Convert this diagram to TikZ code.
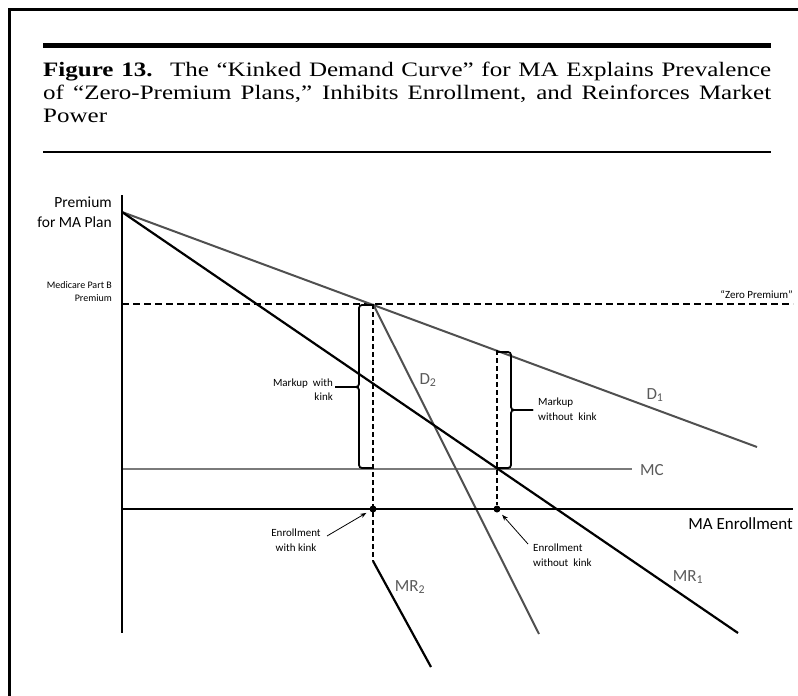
\documentclass[tikz,border=0pt]{standalone}
\usepackage{fontspec}
\usepackage{graphicx}
\setmainfont{Liberation Serif}
\newfontfamily\lblfont{Carlito}
\newfontfamily\titlefont{Liberation Serif}
\usetikzlibrary{arrows.meta}
\definecolor{dgray}{HTML}{505050}
\definecolor{lgray}{HTML}{7A7A7A}
\definecolor{tgray}{HTML}{5A5A5A}
\newcommand{\titleline}[1]{\scalebox{1.22}[1]{\makebox[596.7pt][s]{\titlefont\fontsize{20.5}{22}\selectfont #1}}}
\tikzset{
  blackline/.style={line width=2.2pt, black},
  grayline/.style={line width=2pt, dgray},
  mcline/.style={line width=1.6pt, lgray},
  axisline/.style={line width=2.4pt, black},
  zpdash/.style={line width=2.2pt, black, dash pattern=on 7pt off 4pt},
  vdash/.style={line width=2pt, black, dash pattern=on 5pt off 3pt},
  bracestyle/.style={line width=1.8pt, black, rounded corners=3pt},
  enrdot/.style={circle, fill=black, inner sep=0pt, minimum size=7pt},
  curvelbl/.style={font=\lblfont\fontsize{17}{20}\selectfont, text=tgray, inner sep=0pt},
  smalllbl/.style={font=\lblfont\fontsize{11}{14.5}\selectfont, inner sep=0pt},
  arr/.style={line width=0.8pt, -{Stealth[length=6pt,width=4.5pt]}},
}
\begin{document}
\begin{tikzpicture}[x=1pt,y=-1pt]
\useasboundingbox (0,0) rectangle (798,696);
% frame and rules
\draw[line width=3pt] (9.5,700) -- (9.5,9.5) -- (800,9.5);
\draw[line width=5pt] (43,45) -- (771,45);
\draw[line width=1.2pt] (43,152) -- (771,152);
% title
\node[anchor=base west, inner sep=0] (t1) at (43,76) {\titleline{\textbf{Figure 13.}\hspace{0.7em}The “Kinked Demand Curve” for MA Explains Prevalence}};
\node[anchor=base west, inner sep=0] (t2) at (43,99) {\titleline{of “Zero-Premium Plans,” Inhibits Enrollment, and Reinforces Market}};
\node[anchor=base west, inner sep=0] (t3) at (43,122) {\scalebox{1.22}[1]{\titlefont\fontsize{20.5}{22}\selectfont Power}};
% coordinates
\coordinate (ytop) at (122,195);
\coordinate (ybot) at (122,633);
\coordinate (S) at (122,212);
\coordinate (K) at (373,304);
\coordinate (D1e) at (757,447);
\coordinate (MR1e) at (738,633);
\coordinate (D2e) at (539,634);
\coordinate (zpL) at (122,304);
\coordinate (zpR) at (793,304);
\coordinate (mcL) at (122,469);
\coordinate (mcR) at (632,469);
\coordinate (xL) at (122,509);
\coordinate (xR) at (793,509);
\coordinate (k2) at (497,350);
\coordinate (mr2s) at (373,561);
\coordinate (mr2e) at (431,667);
% lines
\draw[zpdash] (zpL) -- (zpR);
\draw[mcline] (mcL) -- (mcR);
\draw[grayline] (S) -- (D1e);
\draw[grayline] (K) -- (D2e);
\draw[blackline] (S) -- (MR1e);
\draw[axisline] (ytop) -- (ybot);
\draw[axisline] (xL) -- (xR);
\node[enrdot] (e1) at (373,509) {};
\node[enrdot] (e2) at (497,509) {};
\draw[vdash] (K) -- (mr2s);
\draw[vdash] (k2) -- (e2);
\draw[blackline] (mr2s) -- (mr2e);
% braces
\draw[bracestyle] (372,305) -| (359,387) -- (335,387);
\draw[bracestyle] (372,468) -| (359,387) -- (335,387);
\draw[bracestyle] (497,352) -| (511,410) -- (533,410);
\draw[bracestyle] (497,468) -| (511,410) -- (533,410);
% axis labels
\node[font=\lblfont\fontsize{15.5}{20}\selectfont, align=right, anchor=base east, inner sep=0] (yl) at (112,227) {Premium\\for MA Plan};
\node[font=\lblfont\fontsize{10}{13}\selectfont, align=right, anchor=base east, inner sep=0] (mpb) at (112,301) {Medicare Part B\\Premium};
\node[font=\lblfont\fontsize{11}{13}\selectfont, anchor=base east, inner sep=0] (zp) at (793,298) {“Zero Premium”};
\node[font=\lblfont\fontsize{17}{20}\selectfont, anchor=base east, inner sep=0] (xl) at (793,529) {MA Enrollment};
% curve labels
\node[curvelbl] (lD2) at (428,380) {D\textsubscript{2}};
\node[curvelbl] (lD1) at (655,395) {D\textsubscript{1}};
\node[curvelbl, anchor=west] (lMC) at (640,470) {MC};
\node[curvelbl] (lMR2) at (410,587) {MR\textsubscript{2}};
\node[curvelbl] (lMR1) at (688,577) {MR\textsubscript{1}};
% brace labels
\node[smalllbl, align=right, anchor=east] (mwk) at (333,389.5) {Markup\ \ with\\kink};
\node[smalllbl, align=left, anchor=west] (mwok) at (538,409) {Markup\\without\ \ kink};
% enrollment labels
\node[smalllbl, align=center] (ewk) at (296,540) {Enrollment\\with kink};
\node[smalllbl, align=left, anchor=west] (ewok) at (533,555) {Enrollment\\without\ \ kink};
\coordinate (a1s) at (327,536);
\coordinate (a2s) at (528,544);
\draw[arr, shorten >=4pt] (a1s) -- (e1);
\draw[arr, shorten >=4pt] (a2s) -- (e2);
\end{tikzpicture}
\end{document}
